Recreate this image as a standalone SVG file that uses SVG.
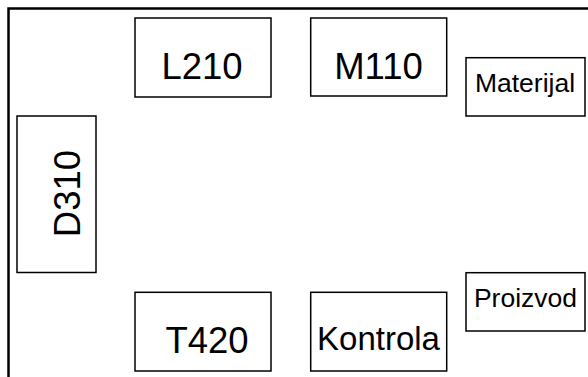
<svg xmlns="http://www.w3.org/2000/svg" width="588" height="377" viewBox="0 0 588 377">
<style>
.box{fill:#fff;stroke:#000;stroke-width:1.5}
.frame{fill:none;stroke:#000;stroke-width:2.5}
text{font-family:"Liberation Sans",Arial,sans-serif;fill:#000;text-anchor:middle}
.big{font-size:36.5px}
.mid{font-size:33px}
.sm{font-size:26.5px}
</style>
<rect width="588" height="377" fill="#fff"/>
<g id="frame"><path class="frame" d="M8.5,377 V8.5 H588"/></g>
<g id="L210"><rect class="box" x="135" y="18" width="136" height="79"/><text class="big" x="202" y="79">L210</text></g>
<g id="M110"><rect class="box" x="310.7" y="18" width="136" height="78"/><text class="big" x="378.5" y="79">M110</text></g>
<g id="Materijal"><rect class="box" x="466" y="57.7" width="119" height="58.3"/><text class="sm" x="525" y="91.7">Materijal</text></g>
<g id="D310"><rect class="box" x="17" y="116" width="79" height="156.5"/><text class="big" transform="translate(80,193.5) rotate(-90)">D310</text></g>
<g id="T420"><rect class="box" x="135" y="292.3" width="136" height="78.7"/><text class="big" x="207" y="352.7">T420</text></g>
<g id="Kontrola"><rect class="box" x="310.7" y="292.3" width="136" height="78.7"/><text class="mid" x="378.5" y="350">Kontrola</text></g>
<g id="Proizvod"><rect class="box" x="466" y="272.7" width="119" height="58.3"/><text class="sm" x="525.5" y="306.7">Proizvod</text></g>
<g id="connectors"></g>
</svg>
